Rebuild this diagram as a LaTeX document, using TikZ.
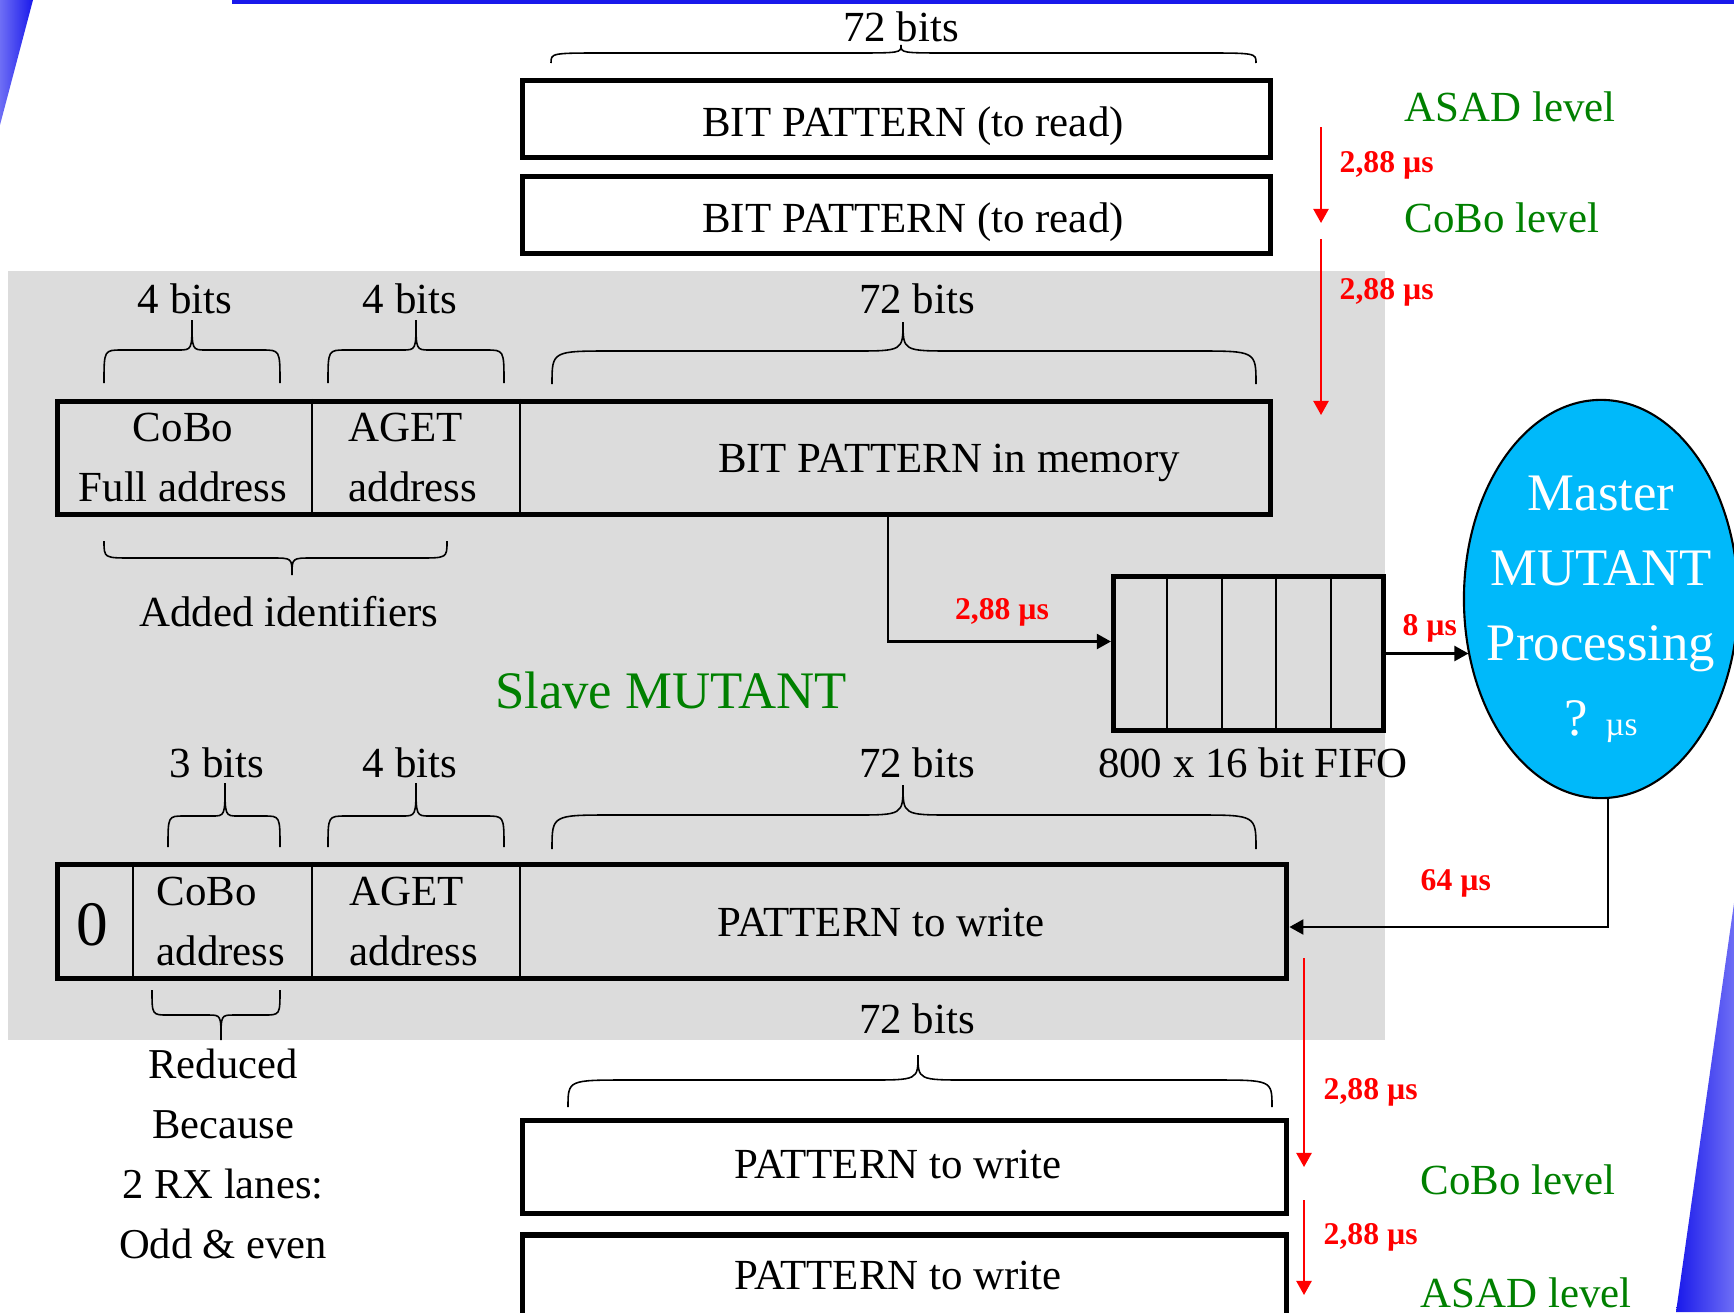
\documentclass[tikz,border=0pt]{standalone}
\usepackage{fontspec}
\setmainfont{Liberation Serif}
\usetikzlibrary{arrows.meta,shapes.geometric}

\definecolor{panelgray}{RGB}{220,220,220}
\definecolor{levelgreen}{RGB}{0,128,0}
\definecolor{timered}{RGB}{255,0,0}
\definecolor{mastercyan}{RGB}{0,185,250}
\definecolor{slideblue}{RGB}{25,25,235}
\definecolor{slidelight}{RGB}{110,110,245}

\newcommand\bodysize{\fontsize{12.2}{14.5}\selectfont}
\newcommand\stacksize{\fontsize{12.1}{17.07}\selectfont}
\newcommand\bigsize{\fontsize{15}{21.3}\selectfont}
\newcommand\zerosize{\fontsize{18}{20}\selectfont}
\newcommand\timesize{\fontsize{9}{11}\selectfont}

% curly brace: x1, x2, tip x, end y, flat y, tip y, end radius, tip radius
\newcommand\bitbrace[8]{%
  \draw[bracepath] (#1,#4) .. controls (#1,#5) .. ({#1+#7},#5)
    -- ({#3-#8},#5) .. controls (#3,#5) .. (#3,#6)
    .. controls (#3,#5) .. ({#3+#8},#5)
    -- ({#2-#7},#5) .. controls (#2,#5) .. (#2,#4);}

\begin{document}
\begin{tikzpicture}[x=0.01cm,y=-0.01cm,
  frame/.style={draw,line width=1.45pt,inner sep=0},
  divider/.style={line width=0.6pt},
  fifodiv/.style={line width=0.8pt},
  txt/.style={font=\bodysize,inner sep=0},
  txtl/.style={txt,anchor=west},
  timelbl/.style={font=\timesize\bfseries,text=timered,inner sep=0},
  level/.style={font=\bodysize,text=levelgreen,inner sep=0,anchor=west},
  conn/.style={line width=0.6pt,-{Triangle[length=4pt,width=4.3pt]}},
  timearrow/.style={conn,draw=timered},
  bracepath/.style={line width=0.45pt}]

\useasboundingbox (0,0) rectangle (1734,1312);
\clip (0,0) rectangle (1734,1312);

% slide decoration
\fill[slideblue] (232,0) rectangle (1734,3.5);
\shade[left color=slidelight,right color=slideblue] (0,0) -- (33,0) -- (0,125) -- cycle;
\shade[left color=slideblue,right color=slidelight] (1734,903) -- (1734,1312) -- (1676,1312) -- cycle;

% slave MUTANT panel
\fill[panelgray] (8,271) rectangle (1385,1040);

% patterns read from the ASAD and CoBo levels
\node[txt] (top72) at (901,27) {72 bits};
\bitbrace{551}{1256}{901}{63}{53}{45}{55}{50}
\node[frame,minimum width=7.48cm,minimum height=0.77cm] (rd1) at (896.5,119) {};
\node[txt] (rd1t) at (913,126) {BIT PATTERN (to read)};
\node[frame,minimum width=7.48cm,minimum height=0.77cm] (rd2) at (896.5,215) {};
\node[txt] (rd2t) at (913,222) {BIT PATTERN (to read)};

\node[level] (asad1) at (1404,107) {ASAD level};
\node[level] (cobo1) at (1404,218) {CoBo level};
\coordinate (ta1s) at (1321,127);
\coordinate (ta1e) at (1321,223);
\coordinate (ta2s) at (1321,239);
\coordinate (ta2e) at (1321,415);
\draw[timearrow] (ta1s) -- (ta1e);
\draw[timearrow] (ta2s) -- (ta2e);
\node[timelbl,anchor=west] (t1) at (1339,165) {2,88 µs};
\node[timelbl,anchor=west] (t2) at (1339,292) {2,88 µs};

% pattern held in memory
\node[txt] (m4a) at (185,299) {4 bits};
\node[txt] (m4b) at (410,299) {4 bits};
\node[txt] (m72) at (917,299) {72 bits};
\bitbrace{104}{280}{192}{383}{350}{320}{18}{14}
\bitbrace{328}{504}{416}{383}{350}{320}{18}{14}
\bitbrace{552}{1256}{903}{384}{351}{322}{60}{50}

\node[frame,minimum width=12.13cm,minimum height=1.13cm] (mem) at (664,458) {};
\coordinate (md1) at (312,458);
\coordinate (md2) at (520,458);
\draw[divider] (md1 |- mem.north) -- (md1 |- mem.south);
\draw[divider] (md2 |- mem.north) -- (md2 |- mem.south);
\node[txt] (mc1) at (183,427) {CoBo};
\node[txt] (mc2) at (183,487) {Full address};
\node[txtl] (ma1) at (348,427) {AGET};
\node[txtl] (ma2) at (348,487) {address};
\node[txt] (mp) at (949,463) {BIT PATTERN in memory};

\bitbrace{104}{447}{292}{541}{558}{575}{28}{20}
\node[txt] (added) at (289,612) {Added identifiers};

\node[font=\bigsize,text=levelgreen,inner sep=0] (slave) at (671,690) {Slave MUTANT};

% FIFO
\node[frame,minimum width=2.70cm,minimum height=1.54cm] (fifo) at (1248.5,653.5) {};
\foreach \fx [count=\i] in {1167,1222,1276,1331} {
  \coordinate (fd\i) at (\fx,653);
  \draw[fifodiv] (fd\i |- fifo.north) -- (fd\i |- fifo.south);
}
\node[txt] (fifolbl) at (1253,763) {800 x 16 bit FIFO};

\coordinate (memx) at (888,516);
\draw[conn] (memx |- mem.south) |- ([yshift=0.12cm]fifo.west);
\node[timelbl] (t3) at (1002,612) {2,88 µs};

% master MUTANT
\node[ellipse,draw,line width=0.6pt,fill=mastercyan,minimum width=2.74cm,minimum height=3.98cm,inner sep=0] (ell) at (1601,599) {};
\node[font=\bigsize,text=white,align=center,inner sep=0] (ellt) at (1601,609)
  {Master\\MUTANT\\Processing\\? {\fontsize{9.5}{11}\selectfont µs}};

\draw[conn] (fifo.east) -- (fifo.east -| ell.203.5);
\node[timelbl,anchor=west] (t4) at (1402,628) {8 µs};

% pattern to write
\node[txt] (w3) at (217,763) {3 bits};
\node[txt] (w4) at (410,763) {4 bits};
\node[txt] (w72) at (917,763) {72 bits};
\bitbrace{168}{280}{225}{847}{816}{783}{16}{13}
\bitbrace{328}{504}{416}{847}{816}{783}{18}{14}
\bitbrace{552}{1256}{903}{849}{815}{785}{60}{50}

\node[frame,minimum width=12.29cm,minimum height=1.14cm] (wr) at (672,921.5) {};
\coordinate (wd1) at (133,921);
\coordinate (wd2) at (312,921);
\coordinate (wd3) at (520,921);
\draw[divider] (wd1 |- wr.north) -- (wd1 |- wr.south);
\draw[divider] (wd2 |- wr.north) -- (wd2 |- wr.south);
\draw[divider] (wd3 |- wr.north) -- (wd3 |- wr.south);
\node[font=\zerosize,inner sep=0] (wz) at (92,925) {0};
\node[txtl] (wc1) at (156,891) {CoBo};
\node[txtl] (wc2) at (156,951) {address};
\node[txtl] (wa1) at (349,891) {AGET};
\node[txtl] (wa2) at (349,951) {address};
\node[txt] (wp) at (881,922) {PATTERN to write};

\draw[conn] ([xshift=0.07cm]ell.south) |- ([yshift=-0.055cm]wr.east);
\node[timelbl,anchor=west] (t5) at (1420,883) {64 µs};

\bitbrace{152}{280}{221}{990}{1015}{1040}{16}{13}
\node[font=\stacksize,align=center,inner sep=0] (reduced) at (223,1154)
  {Reduced\\Because\\2 RX lanes:\\Odd \& even};

% patterns written to the CoBo and ASAD levels
\node[txt] (b72) at (917,1019) {72 bits};
\bitbrace{568}{1272}{918}{1107}{1080}{1055}{60}{50}
\node[frame,minimum width=7.64cm,minimum height=0.93cm] (wr1) at (904.5,1167) {};
\node[txt] (wr1t) at (898,1164) {PATTERN to write};
\node[frame,minimum width=7.64cm,minimum height=1.04cm] (wr2) at (904.5,1287) {};
\node[txt] (wr2t) at (898,1275) {PATTERN to write};

\coordinate (tb1s) at (1304,958);
\coordinate (tb1e) at (1304,1167);
\coordinate (tb2s) at (1304,1200);
\coordinate (tb2e) at (1304,1295);
\draw[timearrow] (tb1s) -- (tb1e);
\draw[timearrow] (tb2s) -- (tb2e);
\node[timelbl,anchor=west] (t6) at (1323,1092) {2,88 µs};
\node[timelbl,anchor=west] (t7) at (1323,1237) {2,88 µs};
\node[level] (cobo2) at (1420,1180) {CoBo level};
\node[level] (asad2) at (1420,1293) {ASAD level};

\end{tikzpicture}
\end{document}
